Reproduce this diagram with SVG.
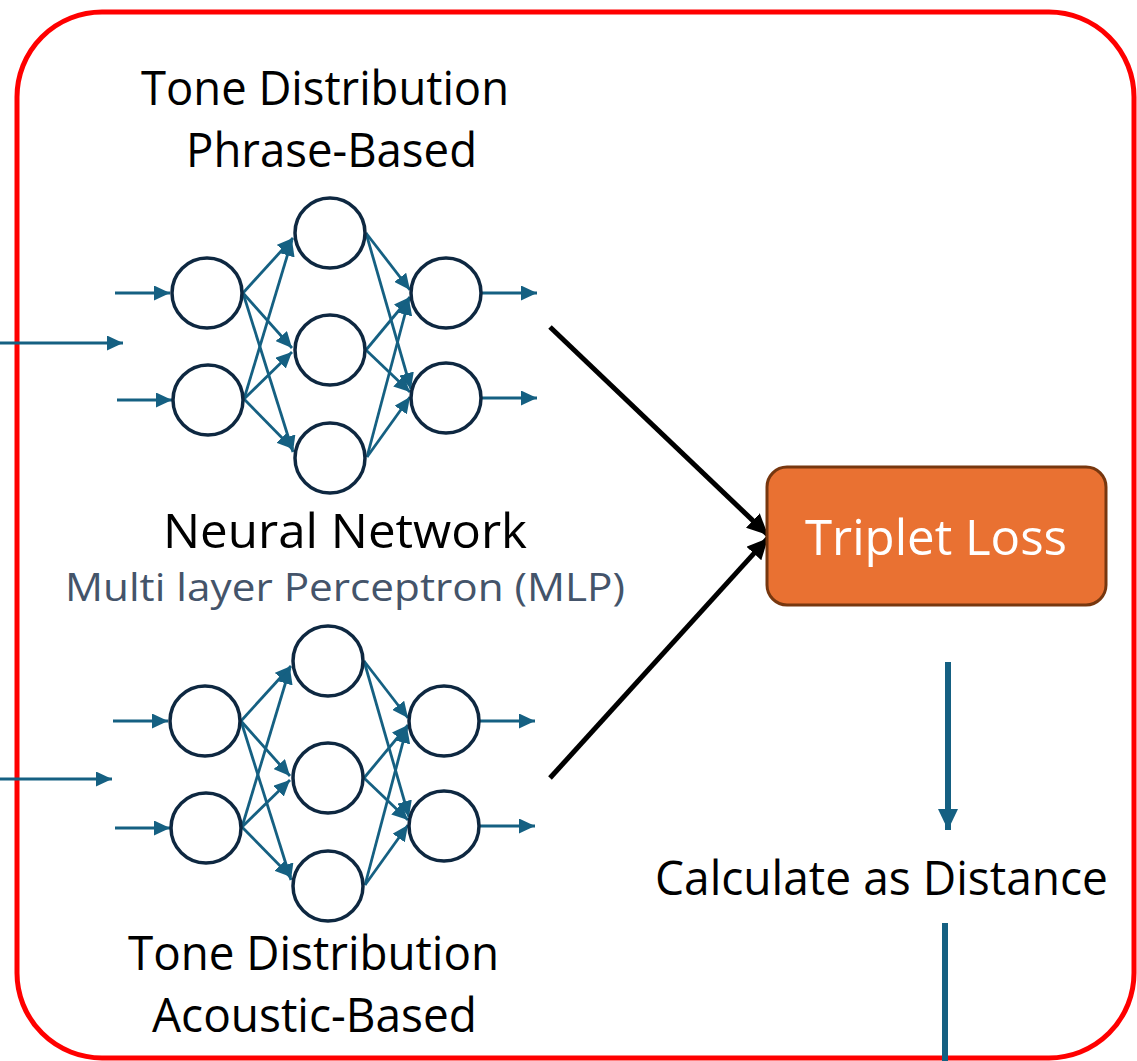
<svg xmlns="http://www.w3.org/2000/svg" width="1137" height="1061" viewBox="0 0 1137 1061">
<style>
.frame{fill:none;stroke:#FF0000;stroke-width:5}
.neuron{fill:#FFFFFF;stroke:#0E2841;stroke-width:3.5}
.edge{stroke:#156082;stroke-width:2.8;fill:none}
.big{stroke:#000000;stroke-width:5;fill:none}
.flow{stroke:#156082;stroke-width:6;fill:none}
.lbl{font-family:"Open Sans","Liberation Sans",sans-serif;fill:#000000}
.sub{font-family:"Open Sans","Liberation Sans",sans-serif;fill:#44546A}
.box{fill:#E97132;stroke:#77370F;stroke-width:3}
.boxt{font-family:"Open Sans","Liberation Sans",sans-serif;fill:#FFFFFF}
</style>
<defs>
<marker id="ab" markerUnits="userSpaceOnUse" markerWidth="17" markerHeight="15" refX="16" refY="7.5" orient="auto"><path d="M0,0 L16,7.5 L0,15 z" fill="#156082"/></marker>
<marker id="ak" markerUnits="userSpaceOnUse" markerWidth="22" markerHeight="20" refX="21" refY="10" orient="auto"><path d="M0,0 L21,10 L0,20 z" fill="#000000"/></marker>
<marker id="af" markerUnits="userSpaceOnUse" markerWidth="22" markerHeight="20" refX="21" refY="10" orient="auto"><path d="M0,0 L21,10 L0,20 z" fill="#156082"/></marker>
</defs>
<rect class="frame" x="17" y="12" width="1117" height="1046" rx="85" ry="85"/>

<g id="connectors">
<g id="top-edges">
<line class="edge" x1="115" y1="293" x2="170" y2="293" marker-end="url(#ab)"/>
<line class="edge" x1="117" y1="400" x2="172" y2="400" marker-end="url(#ab)"/>
<line class="edge" x1="243" y1="293" x2="293" y2="238" marker-end="url(#ab)"/>
<line class="edge" x1="243" y1="293" x2="292" y2="348" marker-end="url(#ab)"/>
<line class="edge" x1="243" y1="293" x2="293" y2="452" marker-end="url(#ab)"/>
<line class="edge" x1="244" y1="399" x2="292" y2="240" marker-end="url(#ab)"/>
<line class="edge" x1="244" y1="399" x2="292" y2="352" marker-end="url(#ab)"/>
<line class="edge" x1="244" y1="399" x2="293" y2="449" marker-end="url(#ab)"/>
<line class="edge" x1="366" y1="233" x2="410" y2="290" marker-end="url(#ab)"/>
<line class="edge" x1="366" y1="233" x2="411" y2="389" marker-end="url(#ab)"/>
<line class="edge" x1="366" y1="350" x2="410" y2="297" marker-end="url(#ab)"/>
<line class="edge" x1="366" y1="350" x2="410" y2="392" marker-end="url(#ab)"/>
<line class="edge" x1="367" y1="457" x2="409" y2="299" marker-end="url(#ab)"/>
<line class="edge" x1="367" y1="457" x2="410" y2="397" marker-end="url(#ab)"/>
<line class="edge" x1="482" y1="293" x2="537" y2="293" marker-end="url(#ab)"/>
<line class="edge" x1="482" y1="398" x2="537" y2="398" marker-end="url(#ab)"/>
</g>
<g id="bottom-edges" transform="translate(-2,428)">
<line class="edge" x1="115" y1="293" x2="170" y2="293" marker-end="url(#ab)"/>
<line class="edge" x1="117" y1="400" x2="172" y2="400" marker-end="url(#ab)"/>
<line class="edge" x1="243" y1="293" x2="293" y2="238" marker-end="url(#ab)"/>
<line class="edge" x1="243" y1="293" x2="292" y2="348" marker-end="url(#ab)"/>
<line class="edge" x1="243" y1="293" x2="293" y2="452" marker-end="url(#ab)"/>
<line class="edge" x1="244" y1="399" x2="292" y2="240" marker-end="url(#ab)"/>
<line class="edge" x1="244" y1="399" x2="292" y2="352" marker-end="url(#ab)"/>
<line class="edge" x1="244" y1="399" x2="293" y2="449" marker-end="url(#ab)"/>
<line class="edge" x1="366" y1="233" x2="410" y2="290" marker-end="url(#ab)"/>
<line class="edge" x1="366" y1="233" x2="411" y2="389" marker-end="url(#ab)"/>
<line class="edge" x1="366" y1="350" x2="410" y2="297" marker-end="url(#ab)"/>
<line class="edge" x1="366" y1="350" x2="410" y2="392" marker-end="url(#ab)"/>
<line class="edge" x1="367" y1="457" x2="409" y2="299" marker-end="url(#ab)"/>
<line class="edge" x1="367" y1="457" x2="410" y2="397" marker-end="url(#ab)"/>
<line class="edge" x1="482" y1="293" x2="537" y2="293" marker-end="url(#ab)"/>
<line class="edge" x1="482" y1="398" x2="537" y2="398" marker-end="url(#ab)"/>
</g>
<line class="edge" x1="0" y1="343" x2="123" y2="343" marker-end="url(#ab)"/>
<line class="edge" x1="0" y1="779" x2="112" y2="779" marker-end="url(#ab)"/>
<line class="big" x1="550" y1="327" x2="768" y2="535" marker-end="url(#ak)"/>
<line class="big" x1="550" y1="778" x2="768" y2="538" marker-end="url(#ak)"/>
<line class="flow" x1="948" y1="662" x2="948" y2="830" marker-end="url(#af)"/>
<line class="flow" x1="945" y1="923" x2="945" y2="1061"/>
</g>

<g id="top-network">
<g id="top-in1"><circle class="neuron" cx="207" cy="293" r="35"/></g>
<g id="top-in2"><circle class="neuron" cx="208" cy="400" r="35"/></g>
<g id="top-h1"><circle class="neuron" cx="330" cy="233" r="35"/></g>
<g id="top-h2"><circle class="neuron" cx="330" cy="350" r="35"/></g>
<g id="top-h3"><circle class="neuron" cx="330" cy="458" r="35"/></g>
<g id="top-out1"><circle class="neuron" cx="446" cy="293" r="35"/></g>
<g id="top-out2"><circle class="neuron" cx="446" cy="398" r="35"/></g>
</g>
<g id="bottom-network" transform="translate(-2,428)">
<g id="bot-in1"><circle class="neuron" cx="207" cy="293" r="35"/></g>
<g id="bot-in2"><circle class="neuron" cx="208" cy="400" r="35"/></g>
<g id="bot-h1"><circle class="neuron" cx="330" cy="233" r="35"/></g>
<g id="bot-h2"><circle class="neuron" cx="330" cy="350" r="35"/></g>
<g id="bot-h3"><circle class="neuron" cx="330" cy="458" r="35"/></g>
<g id="bot-out1"><circle class="neuron" cx="446" cy="293" r="35"/></g>
<g id="bot-out2"><circle class="neuron" cx="446" cy="398" r="35"/></g>
</g>

<g id="label-top">
<text class="lbl" x="141" y="105" font-size="47" textLength="368" lengthAdjust="spacingAndGlyphs">Tone Distribution</text>
<text class="lbl" x="186" y="167" font-size="47" textLength="291" lengthAdjust="spacingAndGlyphs">Phrase-Based</text>
</g>
<g id="label-nn">
<text class="lbl" x="163" y="548" font-size="47" textLength="364" lengthAdjust="spacingAndGlyphs">Neural Network</text>
<text class="sub" x="65" y="601" font-size="39" textLength="560" lengthAdjust="spacingAndGlyphs">Multi layer Perceptron (MLP)</text>
</g>
<g id="label-bottom">
<text class="lbl" x="128" y="970" font-size="47" textLength="371" lengthAdjust="spacingAndGlyphs">Tone Distribution</text>
<text class="lbl" x="152" y="1032" font-size="47" textLength="325" lengthAdjust="spacingAndGlyphs">Acoustic-Based</text>
</g>
<g id="triplet-loss">
<rect class="box" x="767" y="467" width="339" height="138" rx="20" ry="20"/>
<text class="boxt" x="805" y="555" font-size="50" textLength="262" lengthAdjust="spacingAndGlyphs">Triplet Loss</text>
</g>
<g id="calc-distance">
<text class="lbl" x="655" y="895" font-size="47" textLength="453" lengthAdjust="spacingAndGlyphs">Calculate as Distance</text>
</g>
</svg>
